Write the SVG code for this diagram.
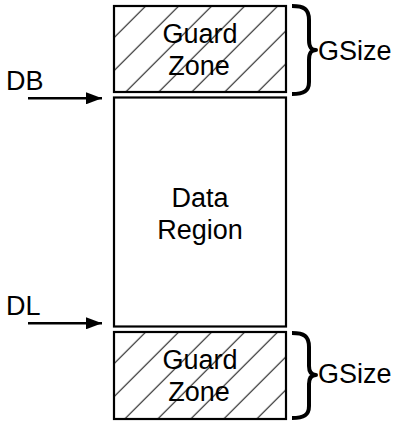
<svg xmlns="http://www.w3.org/2000/svg" width="396" height="422" viewBox="0 0 396 422">
  <style>
    .box { fill: none; stroke: #000; stroke-width: 2.2; }
    .label { font-family: "Liberation Sans", Arial, sans-serif; font-size: 27px; fill: #000; }
    .mid { text-anchor: middle; }
    .brace { fill: none; stroke: #000; stroke-width: 4; stroke-linejoin: round; }
    .arrow { fill: none; stroke: #000; stroke-width: 2.5; }
    .hatch-line { stroke: #1a1a1a; stroke-width: 1.1; }
  </style>
  <defs>
    <!-- diagonal hatch used by the guard zones -->
    <pattern id="hatch-top" patternUnits="userSpaceOnUse" width="33" height="33" patternTransform="translate(19.7,0)">
      <path class="hatch-line" d="M0,33 L33,0 M-2,2 L2,-2 M31,35 L35,31"/>
    </pattern>
    <pattern id="hatch-bottom" patternUnits="userSpaceOnUse" width="33" height="33" patternTransform="translate(15.7,0)">
      <path class="hatch-line" d="M0,33 L33,0 M-2,2 L2,-2 M31,35 L35,31"/>
    </pattern>
    <marker id="head" markerUnits="userSpaceOnUse" viewBox="0 0 16 12" markerWidth="16" markerHeight="12" refX="16" refY="6" orient="auto">
      <path d="M0,0 L16,6 L0,12 z" fill="#000"/>
    </marker>
  </defs>

  <!-- upper guard zone -->
  <g id="guard-top">
    <rect x="114" y="6" width="172" height="86" fill="url(#hatch-top)"/>
    <rect class="box" x="114" y="6" width="172" height="86"/>
    <text class="label mid" x="200" y="42.5">Guard</text>
    <text class="label mid" x="199" y="74.5">Zone</text>
  </g>

  <!-- main data region -->
  <g id="data-region">
    <rect class="box" x="114" y="97.5" width="172" height="229" fill="#fff"/>
    <text class="label mid" x="200" y="207">Data</text>
    <text class="label mid" x="200" y="239">Region</text>
  </g>

  <!-- lower guard zone -->
  <g id="guard-bottom">
    <rect x="114" y="332" width="172" height="87" fill="url(#hatch-bottom)"/>
    <rect class="box" x="114" y="332" width="172" height="87"/>
    <text class="label mid" x="200" y="369">Guard</text>
    <text class="label mid" x="199" y="401">Zone</text>
  </g>

  <!-- size annotations -->
  <g id="gsize-top">
    <path class="brace" d="M292,6 C304,6 309,9 309,20 L309,40 C309,47 311,50 316,50 C311,50 309,53 309,60 L309,82 C309,91 304,94 292,94"/>
    <text class="label" x="318" y="60">GSize</text>
  </g>
  <g id="gsize-bottom">
    <path class="brace" d="M292,333 C304,333 309,336 309,347 L309,366 C309,372 311,375 316,375 C311,375 309,378 309,384 L309,406 C309,415 304,418 292,418"/>
    <text class="label" x="318" y="383">GSize</text>
  </g>

  <!-- boundary labels -->
  <g id="label-db">
    <text class="label" x="6" y="89.5">DB</text>
  </g>
  <g id="label-dl">
    <text class="label" x="6" y="315">DL</text>
  </g>

  <!-- pointers -->
  <g id="connectors">
    <line class="arrow" x1="28" y1="98.3" x2="102" y2="98.3" marker-end="url(#head)"/>
    <line class="arrow" x1="28" y1="323.3" x2="102" y2="323.3" marker-end="url(#head)"/>
  </g>
</svg>
